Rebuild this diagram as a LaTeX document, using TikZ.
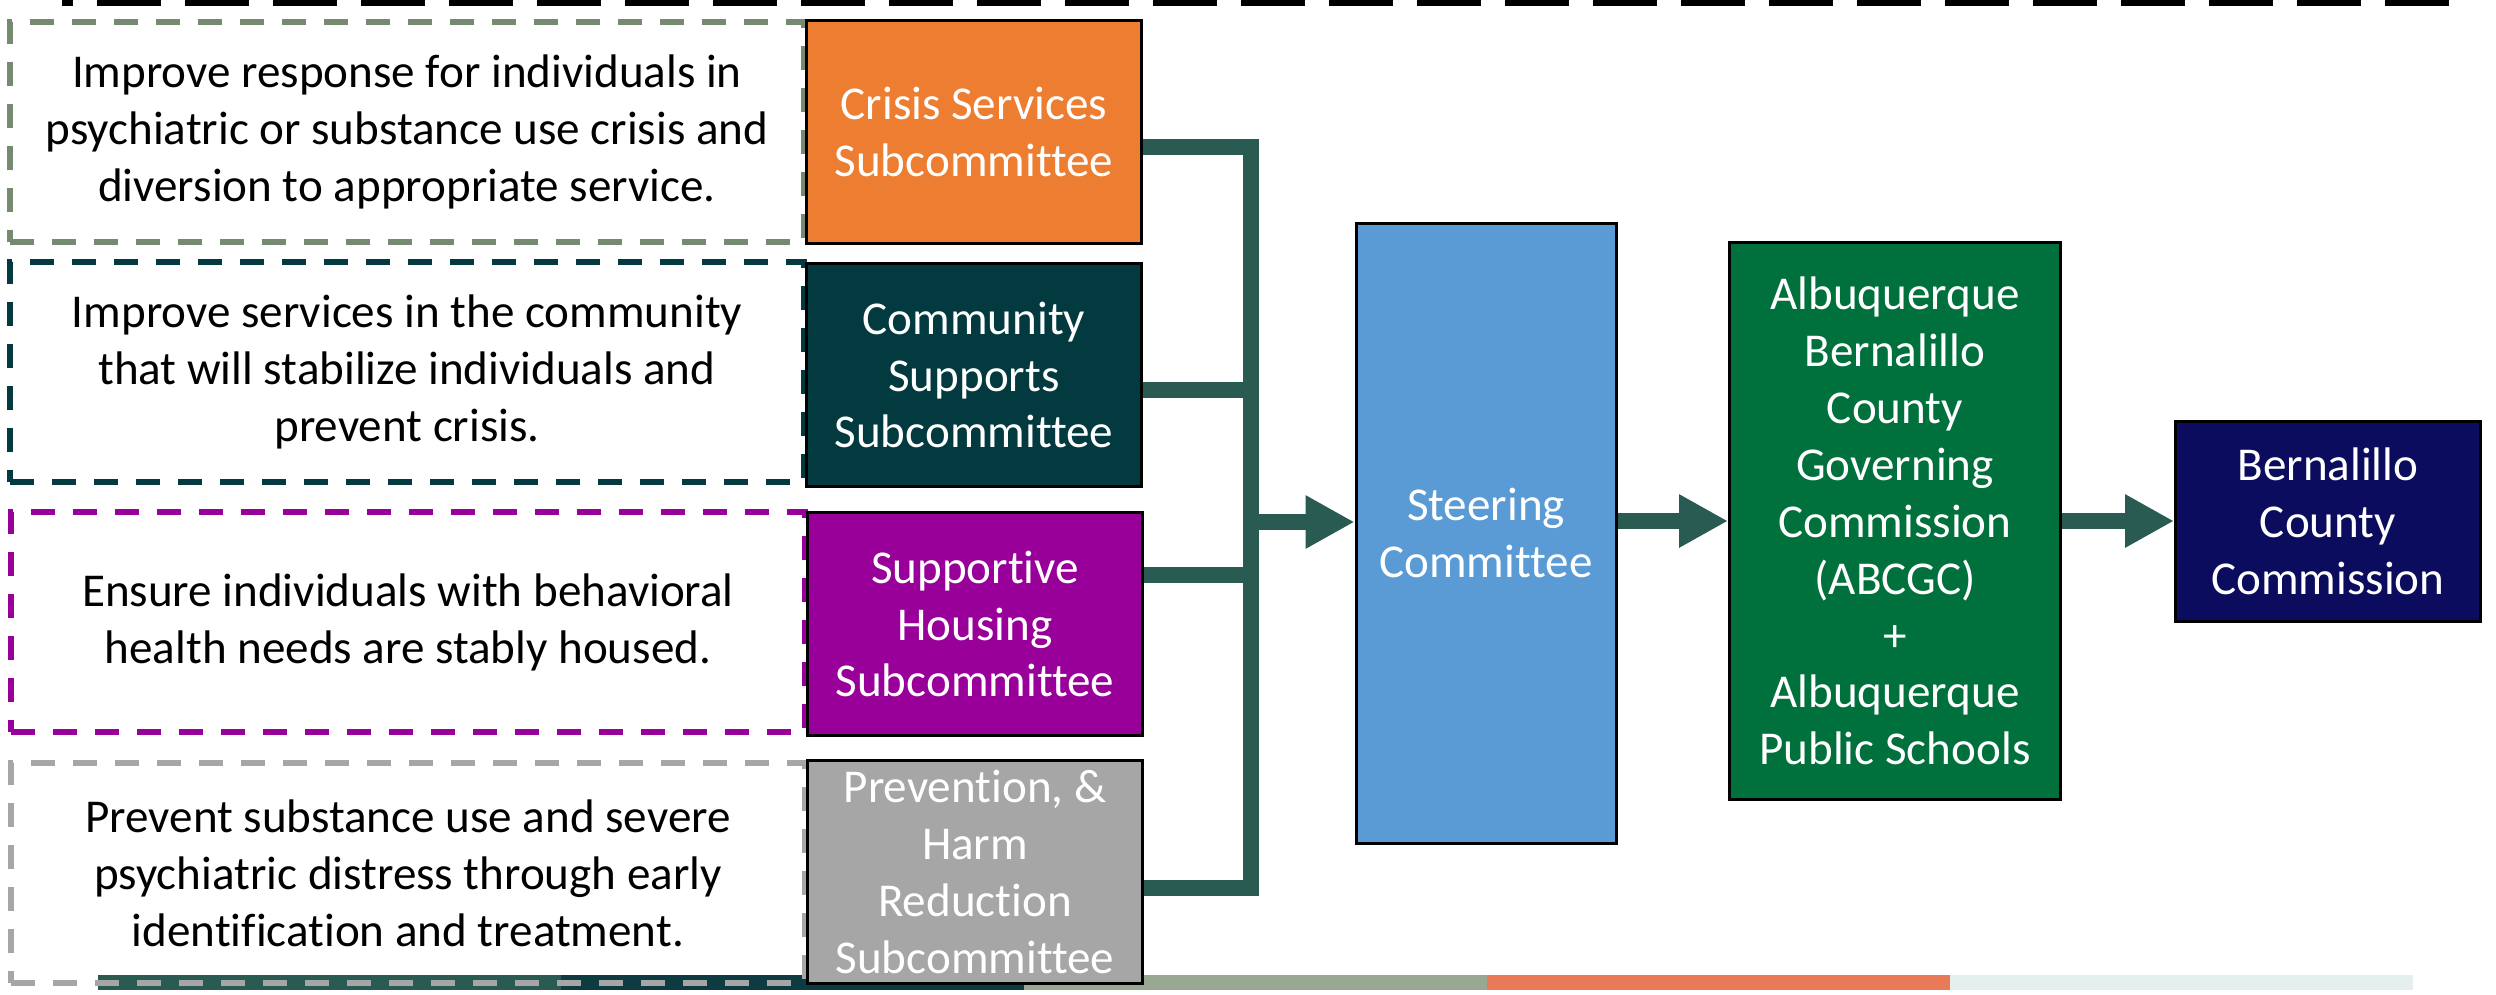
\documentclass[tikz,border=0pt]{standalone}
\usepackage{fontspec}
\setmainfont{Carlito}[Ligatures=NoCommon]
\usetikzlibrary{arrows.meta}
\definecolor{linkc}{HTML}{2A5B52}
\definecolor{sage}{HTML}{758A70}
\definecolor{teal}{HTML}{023A40}
\definecolor{plum}{HTML}{990099}
\definecolor{grey}{HTML}{A6A6A6}
\definecolor{orng}{HTML}{ED7D31}
\definecolor{sky}{HTML}{5B9BD5}
\definecolor{leaf}{HTML}{00703C}
\definecolor{navy}{HTML}{0C0C5F}
\definecolor{stripa}{HTML}{2A5B52}
\definecolor{stripb}{HTML}{0E3A42}
\definecolor{stripc}{HTML}{98A893}
\definecolor{stripd}{HTML}{E87A57}
\definecolor{stripe}{HTML}{E5EFED}
\begin{document}
\begin{tikzpicture}
  [x=0.1mm,y=-0.1mm,
   every node/.style={font=\fontsize{13.4}{16.2}\selectfont,align=center,inner sep=0pt},
   desc/.style={draw=#1,line width=0.6mm,dash pattern=on 2.4mm off 1.8mm,minimum width=79.4mm,minimum height=22mm},
   sub/.style={draw=black,line width=0.3mm,fill=#1,text=white,minimum width=33.5mm,minimum height=22.3mm},
   link/.style={draw=linkc,line width=1.6mm},
   flow/.style={link,-{Triangle[length=4.9mm,width=5mm]}}]
  \useasboundingbox (0,0) rectangle (2496,994);
  \fill[white] (0,0) rectangle (2496,994);
  % strips
  \foreach \i/\c in {0/stripa,1/stripb,2/stripc,3/stripd,4/stripe}
    \fill[\c] (98+463*\i,975) rectangle (561+463*\i,990);
  \draw[black,line width=0.8mm,dash pattern=on 6.4mm off 2.4mm,dash phase=5.3mm] (62,2) -- (2449,2);

  \node[desc=sage] (d1) at (407,132) {Improve response for individuals in\\psychiatric or substance use crisis and\\diversion to appropriate service.};
  \node[desc=teal] (d2) at (407,372) {Improve services in the community\\that will stabilize individuals and\\prevent crisis.};
  \node[desc=plum] (d3) at (408,622) {Ensure individuals with behavioral\\health needs are stably housed.};
  \node[desc=grey] (d4) at (408,873) {Prevent substance use and severe\\psychiatric distress through early\\identification and treatment.};

  \node[sub=orng] (s1) at (974,132) {Crisis Services\\Subcommittee};
  \node[sub=teal] (s2) at (974,375) {Community\\Supports\\Subcommittee};
  \node[sub=plum] (s3) at (975,624) {Supportive\\Housing\\Subcommittee};
  \node[sub=grey] (s4) at (975,872) {Prevention, \&\\Harm\\Reduction\\Subcommittee};

  \node[sub=sky,minimum width=26mm,minimum height=62mm] (steer) at (1486,533) {Steering\\Committee};
  \node[sub=leaf,minimum width=33.1mm,minimum height=55.7mm] (abc) at (1895,521) {Albuquerque\\Bernalillo\\County\\Governing\\Commission\\(ABCGC)\\+\\Albuquerque\\Public Schools};
  \node[sub=navy,minimum width=30.5mm,minimum height=20mm] (bcc) at (2328,521) {Bernalillo\\County\\Commission};

  \coordinate (j1) at (1251,147);
  \coordinate (j2) at (1251,390);
  \coordinate (j3) at (1251,575);
  \coordinate (j4) at (1251,888);
  \coordinate (j0) at (1251,522);
  \draw[link] (s1.east |- j1) -- (j1) -- (j4) -- (s4.east |- j4);
  \foreach \from/\to in {s2/j2,s3/j3}
    \draw[link] (\from.east |- \to) -- (\to);
  \draw[flow] (j0) -- (steer.west |- j0);
  \foreach \from/\to in {steer/abc,abc/bcc}
    \draw[flow] (\from.east |- \to.west) -- (\to.west);

\end{tikzpicture}
\end{document}
